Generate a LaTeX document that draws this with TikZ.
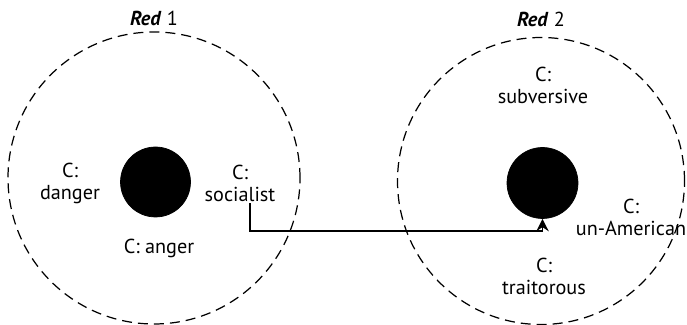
\documentclass[tikz,border=0pt]{standalone}
\usepackage{fontspec}
\setmainfont{PT Sans}
\usetikzlibrary{arrows.meta}

\begin{document}
\begin{tikzpicture}[font=\fontsize{11.5}{12.5}\selectfont]

        \useasboundingbox (0,0) rectangle (13.74,6.5);

        % Define circles (networks)

        \node (net1) at ( 3.08, 2.94) [circle, draw, line width=0.7pt, dash pattern=on 0.2cm off 0.12cm, minimum size=5.84cm, inner sep=0pt] {};

        \node (net2) at ( 10.82, 2.88) [circle, draw, line width=0.7pt, dash pattern=on 0.2cm off 0.12cm, minimum size=5.74cm, inner sep=0pt] {};

        \node (dot1) at ( 3.11, 2.86) [circle, draw, fill, minimum size=1.4cm, inner sep=0pt] {};

        \node (dot2) at ( 10.85, 2.84) [circle, draw, fill, minimum size=1.42cm, inner sep=0pt] {};

        % Define labels

        \node (red1) at ( 3.08, 6.14) {\textbf{\textit{Red}} 1};

        \node (red2) at ( 10.82, 6.12) {\textbf{\textit{Red}} 2};

        \node (danger) at ( 1.40, 2.84) [align=center, inner sep=1pt] {C:\\danger};

        \node (socialist) at ( 4.80, 2.84) [align=center, inner sep=1pt] {C:\\socialist};

        \node (anger) at ( 3.18, 1.54) [inner sep=1pt] {C: anger};

        \node (subversive) at ( 10.86, 4.80) [align=center, inner sep=1pt] {C:\\subversive};

        \node (unamerican) at ( 12.62, 2.16) [align=center, inner sep=0pt] {C:\\un-American};

        \node (traitorous) at ( 10.88, 0.98) [align=center, inner sep=1pt] {C:\\traitorous};

        % Draw arrow between networks

        \draw[-{Stealth[length=7pt,width=7pt]}, line width=1.1pt] ([xshift=0.2cm]socialist.south) -- ++(0.0, -0.56) -| (dot2.south);

    \end{tikzpicture}
\end{document}
